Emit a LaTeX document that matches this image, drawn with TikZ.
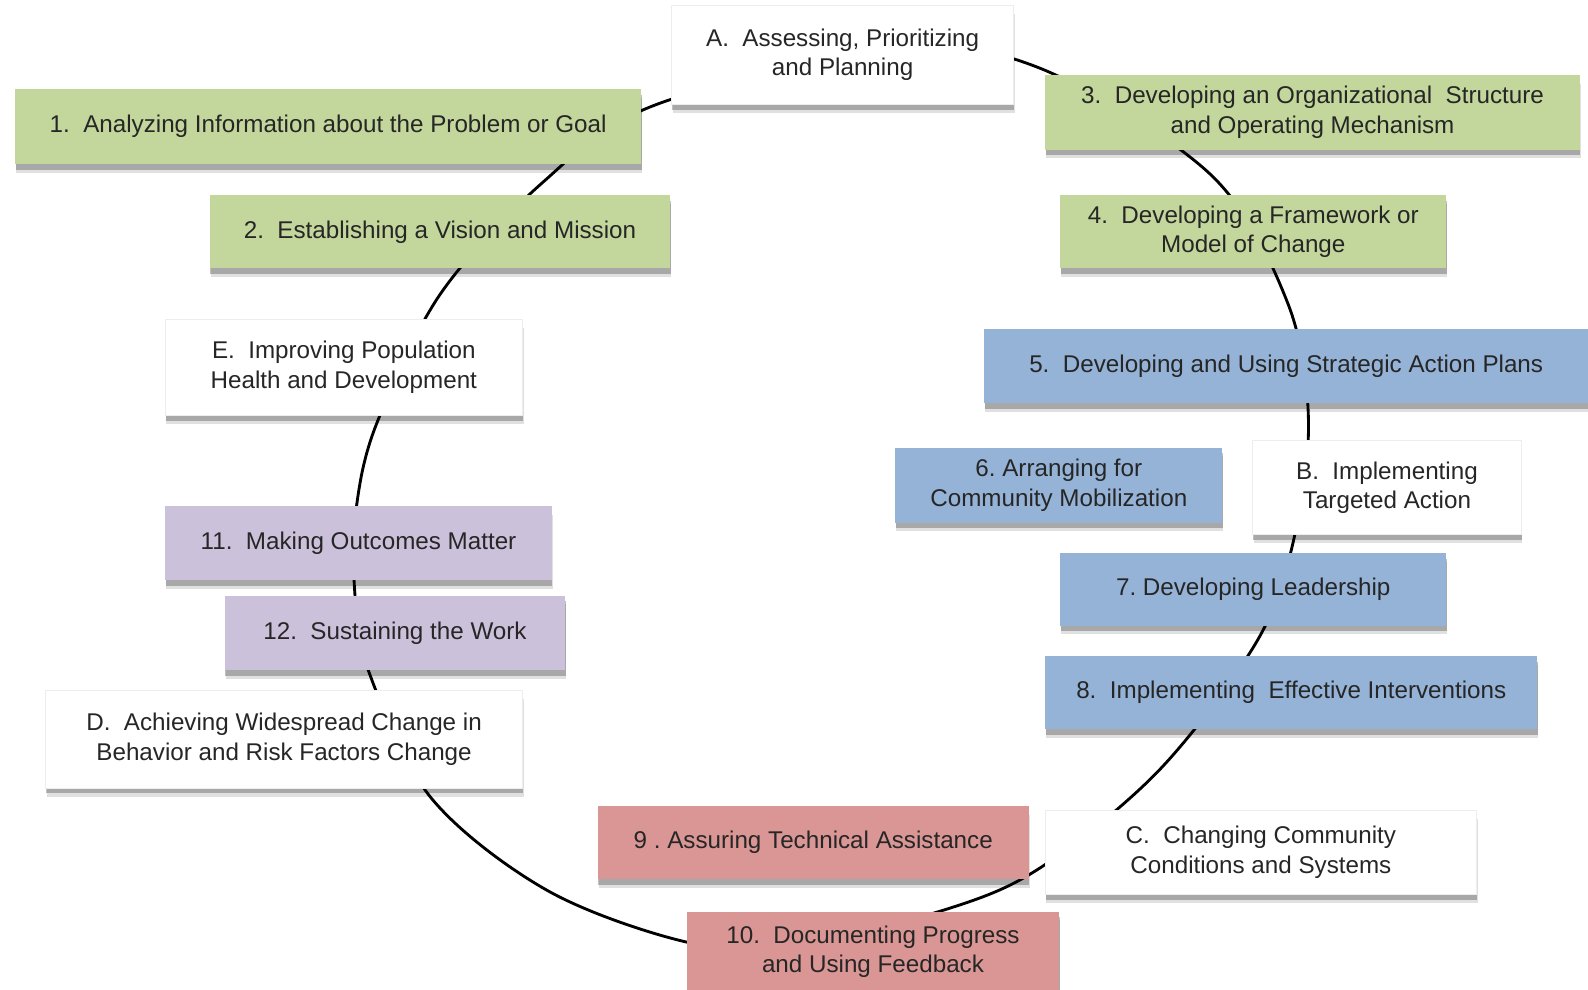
\documentclass[tikz,border=0pt]{standalone}
\usepackage{fontspec}
\setmainfont{Liberation Sans}
\usetikzlibrary{shadows}

\definecolor{stepgreen}{HTML}{C3D69B}
\definecolor{stepblue}{HTML}{95B3D7}
\definecolor{steppurple}{HTML}{CCC1DA}
\definecolor{stepred}{HTML}{D99694}

\begin{document}
\frenchspacing
\begin{tikzpicture}[x=0.02cm, y=-0.02cm,
    box/.style={rectangle, inner sep=0pt, align=center, text=black!85,
        font=\fontsize{13.6}{16.5}\selectfont,
        drop shadow={shadow xshift=0.02cm, shadow yshift=-0.17cm, fill=black, opacity=0.12},
        drop shadow={shadow xshift=0.01cm, shadow yshift=-0.11cm, fill=black, opacity=0.25}},
    phasebox/.style={box, fill=white, draw=black!7},
    greenbox/.style={box, fill=stepgreen},
    bluebox/.style={box, fill=stepblue},
    purplebox/.style={box, fill=steppurple},
    redbox/.style={box, fill=stepred}
]
    \useasboundingbox (0,0) rectangle (1568,977);
    % The loop behind the boxes
    \draw[line width=1.6pt] plot[smooth cycle, tension=0.55] coordinates {
        (880,48) (1026,67) (1195,172) (1271,298) (1292,416) (1276,539)
        (1240,635) (1145,760) (1030,855) (937,897) (780,935) (677,930)
        (540,879) (425,787) (363,660) (350,580) (352,500)
        (372,418) (435,290) (536,180) (646,104)};
    % Phases
    \node[phasebox, minimum width=6.76cm, minimum height=1.96cm] (A) at (832,54)    {A.~ Assessing, Prioritizing\\and Planning};
    \node[phasebox, minimum width=5.30cm, minimum height=1.86cm] (B) at (1369.5,481.5) {B.~ Implementing\\Targeted Action};
    \node[phasebox, minimum width=8.52cm, minimum height=1.66cm] (C) at (1245,841.5)  {C.~ Changing Community\\Conditions and Systems};
    \node[phasebox, minimum width=9.42cm, minimum height=1.92cm] (D) at (280.5,730)   {D.~ Achieving Widespread Change in\\Behavior and Risk Factors Change};
    \node[phasebox, minimum width=7.06cm, minimum height=1.90cm] (E) at (339.5,362.5) {E.~ Improving Population\\Health and Development};
    % Steps
    \node[greenbox,  minimum width=12.36cm, minimum height=1.48cm] (s1)  at (324,125)    {1.~ Analyzing Information about the Problem or Goal};
    \node[greenbox,  minimum width=9.10cm,  minimum height=1.44cm] (s2)  at (434.5,229)  {2.~ Establishing a Vision and Mission};
    \node[greenbox,  minimum width=10.56cm, minimum height=1.48cm] (s3)  at (1296,111)   {3.~ Developing an Organizational~ Structure\\and Operating Mechanism};
    \node[greenbox,  minimum width=7.62cm,  minimum height=1.44cm] (s4)  at (1237.5,229) {4.~ Developing a Framework or\\Model of Change};
    \node[bluebox,   minimum width=11.92cm, minimum height=1.46cm] (s5)  at (1270,361.5) {5.~ Developing and Using Strategic Action Plans};
    \node[bluebox,   minimum width=6.46cm,  minimum height=1.48cm] (s6)  at (1045.5,479) {6. Arranging for\\Community Mobilization};
    \node[bluebox,   minimum width=7.62cm,  minimum height=1.44cm] (s7)  at (1237.5,582) {7. Developing Leadership};
    \node[bluebox,   minimum width=9.72cm,  minimum height=1.44cm] (s8)  at (1275,684)   {8.~ Implementing~ Effective Interventions};
    \node[redbox,    minimum width=8.52cm,  minimum height=1.44cm] (s9)  at (803,832)    {9 . Assuring Technical Assistance};
    \node[redbox,    minimum width=7.36cm,  minimum height=1.60cm] (s10) at (862,940)    {10.~ Documenting Progress\\and Using Feedback};
    \node[purplebox, minimum width=7.64cm,  minimum height=1.46cm] (s11) at (354,536.5)  {11.~ Making Outcomes Matter};
    \node[purplebox, minimum width=6.72cm,  minimum height=1.48cm] (s12) at (390,625)    {12.~ Sustaining the Work};
\end{tikzpicture}
\end{document}
